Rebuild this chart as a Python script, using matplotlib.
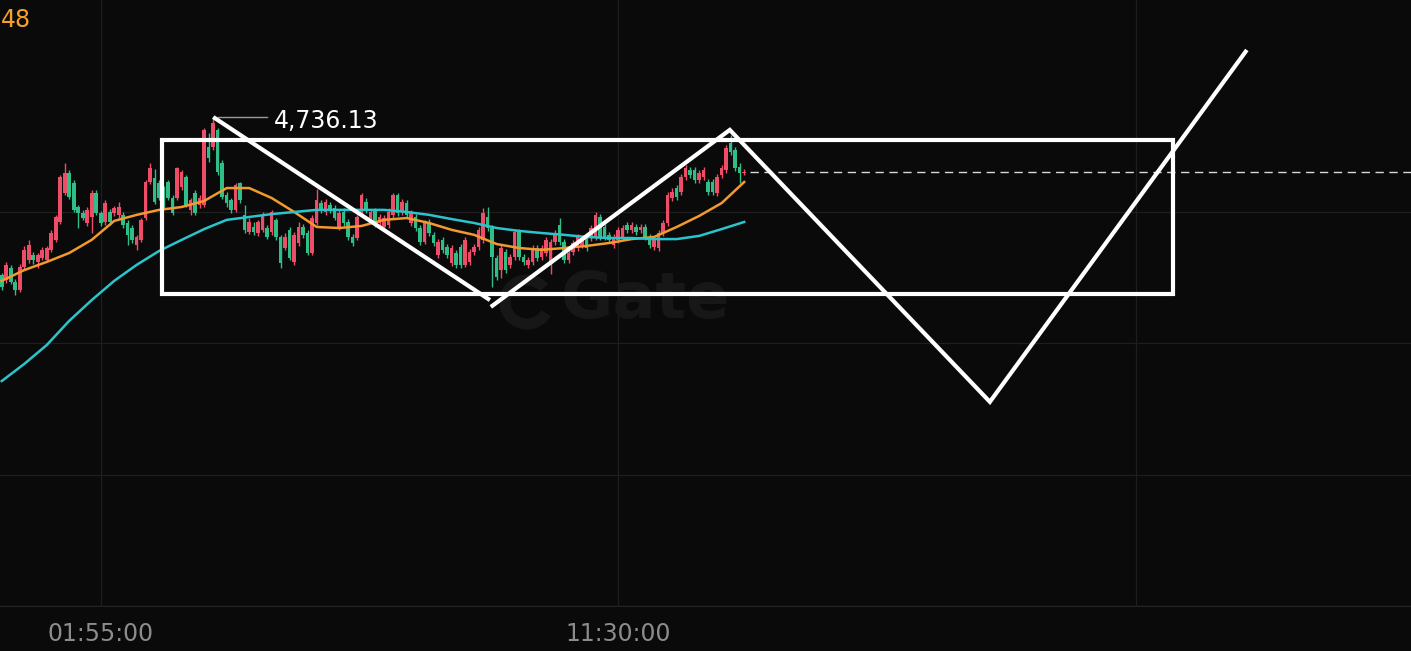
import numpy as np
import matplotlib.pyplot as plt
from matplotlib.patches import Rectangle, Arc

# 5-minute candles (index 0 = 00:05:00)
opens = [4676.0, 4674.2, 4678.7, 4673.4, 4670.4, 4679.1, 4681.8, 4683.7, 4681.0, 4682.5,
         4681.8, 4685.6, 4689.4, 4696.2, 4707.2, 4714.8, 4711.0, 4701.9, 4699.6, 4695.8,
         4698.1, 4707.2, 4699.6, 4696.2, 4700.0, 4699.6, 4698.9, 4698.9, 4695.8, 4693.9,
         4687.5, 4689.4, 4697.7, 4711.4, 4712.9, 4711.0, 4708.4, 4711.4, 4705.3, 4705.3,
         4709.5, 4713.3, 4700.8, 4707.2, 4702.7, 4702.7, 4724.7, 4724.7, 4731.2, 4718.6,
         4706.5, 4704.6, 4700.8, 4711.0, 4698.9, 4692.4, 4694.3, 4692.0, 4693.2, 4693.9,
         4692.4, 4697.0, 4690.5, 4686.3, 4693.2, 4681.0, 4688.2, 4694.3, 4692.0, 4684.4,
         4695.8, 4703.4, 4700.0, 4702.7, 4701.5, 4694.3, 4700.0, 4696.2, 4690.5, 4690.1,
         4700.0, 4703.8, 4697.7, 4700.4, 4695.8, 4694.3, 4695.1, 4698.9, 4706.5, 4700.0,
         4703.4, 4695.8, 4698.1, 4693.9, 4688.6, 4696.2, 4691.3, 4683.7, 4689.4, 4686.7,
         4680.6, 4684.4, 4686.7, 4679.9, 4681.0, 4684.8, 4686.7, 4689.4, 4698.1, 4693.9,
         4682.5, 4677.9, 4684.8, 4679.9, 4682.9, 4692.4, 4682.9, 4679.9, 4681.0, 4686.3,
         4682.9, 4684.4, 4681.0, 4688.6, 4695.1, 4688.6, 4681.8, 4684.8, 4686.3, 4687.5,
         4690.1, 4690.1, 4690.5, 4698.1, 4694.3, 4691.3, 4687.5, 4689.4, 4690.5, 4695.1,
         4693.2, 4694.3, 4693.2, 4694.3, 4690.5, 4686.7, 4686.3, 4692.0, 4695.8, 4705.3,
         4709.1, 4707.6, 4713.3, 4716.0, 4716.0, 4712.2, 4713.3, 4711.4, 4711.4, 4707.2,
         4714.1, 4716.0, 4726.2, 4723.6, 4717.1, 4714.8]
highs = [4676.8, 4681.0, 4679.9, 4674.5, 4680.2, 4687.1, 4689.4, 4684.8, 4684.4, 4686.7,
         4687.1, 4693.2, 4698.9, 4714.1, 4718.6, 4716.0, 4712.2, 4702.7, 4700.8, 4701.9,
         4708.4, 4708.4, 4700.4, 4704.6, 4701.1, 4702.3, 4703.8, 4700.0, 4697.0, 4695.1,
         4691.3, 4697.7, 4712.2, 4718.6, 4716.3, 4712.2, 4710.0, 4712.2, 4706.5, 4717.1,
         4716.0, 4714.1, 4705.3, 4708.4, 4706.5, 4731.9, 4730.0, 4736.13, 4731.9, 4719.8,
         4707.6, 4705.3, 4711.0, 4711.4, 4702.7, 4697.7, 4696.2, 4697.0, 4700.0, 4695.1,
         4700.8, 4697.7, 4691.3, 4692.0, 4694.3, 4692.4, 4696.2, 4695.4, 4693.2, 4698.9,
         4708.7, 4704.6, 4704.9, 4703.8, 4702.7, 4700.8, 4701.5, 4697.3, 4691.6, 4698.9,
         4707.2, 4705.3, 4701.1, 4701.5, 4699.2, 4698.9, 4701.5, 4707.2, 4707.2, 4704.9,
         4704.6, 4700.8, 4699.2, 4695.1, 4697.0, 4697.3, 4692.4, 4689.7, 4690.5, 4687.8,
         4687.5, 4685.6, 4687.8, 4690.5, 4685.9, 4687.8, 4694.3, 4701.5, 4701.9, 4695.1,
         4683.7, 4687.5, 4685.9, 4684.0, 4693.5, 4693.5, 4684.0, 4682.9, 4687.5, 4687.5,
         4687.5, 4690.5, 4689.7, 4693.2, 4697.7, 4689.7, 4685.6, 4689.4, 4691.6, 4690.5,
         4691.3, 4695.1, 4700.0, 4699.2, 4695.4, 4692.4, 4691.6, 4694.3, 4695.1, 4696.2,
         4696.2, 4695.4, 4695.4, 4695.4, 4691.6, 4690.5, 4693.2, 4697.0, 4707.6, 4709.1,
         4710.3, 4714.4, 4717.9, 4717.1, 4717.1, 4716.0, 4717.1, 4712.5, 4712.5, 4714.4,
         4717.9, 4725.5, 4729.3, 4724.7, 4718.6, 4716.3]
lows = [4670.3, 4673.0, 4672.6, 4668.5, 4669.6, 4677.9, 4680.6, 4680.2, 4678.7, 4681.8,
        4681.0, 4684.8, 4688.6, 4695.4, 4706.5, 4704.9, 4700.0, 4693.9, 4697.0, 4694.7,
        4692.0, 4698.9, 4694.7, 4695.1, 4695.1, 4698.5, 4697.7, 4693.9, 4687.5, 4688.2,
        4685.6, 4688.6, 4697.0, 4710.6, 4703.0, 4704.6, 4701.5, 4704.6, 4698.9, 4704.6,
        4708.4, 4701.9, 4698.9, 4698.9, 4701.5, 4701.9, 4719.0, 4723.6, 4714.1, 4704.9,
        4701.9, 4699.6, 4700.0, 4703.4, 4692.0, 4691.6, 4691.3, 4690.9, 4692.4, 4689.7,
        4691.3, 4689.4, 4678.7, 4685.6, 4681.8, 4679.9, 4687.1, 4690.1, 4683.7, 4683.7,
        4695.1, 4699.6, 4698.9, 4699.6, 4697.0, 4693.2, 4694.7, 4689.4, 4687.1, 4689.4,
        4698.9, 4699.6, 4696.6, 4694.3, 4694.7, 4693.2, 4693.9, 4697.7, 4698.5, 4698.9,
        4697.7, 4694.7, 4692.8, 4687.5, 4687.8, 4690.9, 4687.1, 4682.5, 4684.4, 4682.5,
        4679.5, 4678.7, 4678.7, 4679.1, 4679.9, 4683.7, 4685.6, 4688.2, 4692.8, 4671.5,
        4674.2, 4674.9, 4676.8, 4678.7, 4681.8, 4681.8, 4679.9, 4678.7, 4679.9, 4681.4,
        4681.8, 4683.3, 4676.4, 4687.5, 4687.5, 4680.6, 4680.6, 4683.7, 4685.2, 4686.3,
        4685.2, 4689.0, 4689.4, 4689.4, 4689.4, 4688.2, 4686.3, 4688.2, 4689.4, 4692.0,
        4692.0, 4691.3, 4692.0, 4689.4, 4686.3, 4685.6, 4685.2, 4690.9, 4694.7, 4704.2,
        4704.6, 4706.5, 4712.2, 4712.9, 4711.0, 4711.0, 4712.2, 4706.5, 4706.5, 4706.1,
        4712.9, 4714.8, 4721.7, 4715.6, 4711.0, 4714.1]
closes = [4671.5, 4679.9, 4673.4, 4670.4, 4679.1, 4685.6, 4687.5, 4681.8, 4683.7, 4685.6,
          4686.3, 4692.0, 4698.1, 4713.3, 4714.8, 4705.7, 4700.8, 4699.6, 4697.7, 4700.8,
          4707.2, 4699.6, 4695.8, 4703.4, 4696.2, 4701.5, 4701.9, 4695.1, 4691.3, 4689.4,
          4690.5, 4697.0, 4711.4, 4716.7, 4703.8, 4705.3, 4702.7, 4705.3, 4699.6, 4716.7,
          4715.2, 4702.7, 4704.6, 4699.6, 4705.3, 4731.2, 4720.5, 4733.8, 4715.2, 4705.7,
          4703.4, 4700.8, 4710.3, 4704.6, 4693.2, 4696.2, 4692.4, 4696.2, 4698.9, 4690.5,
          4700.0, 4690.5, 4680.6, 4690.5, 4682.5, 4691.3, 4694.3, 4691.3, 4684.4, 4697.7,
          4704.6, 4700.8, 4703.8, 4700.8, 4697.7, 4699.6, 4695.8, 4690.5, 4688.2, 4698.1,
          4706.5, 4700.8, 4700.0, 4695.4, 4698.1, 4697.7, 4700.0, 4706.5, 4699.6, 4703.8,
          4698.9, 4699.6, 4693.9, 4688.6, 4696.2, 4692.0, 4688.2, 4688.6, 4685.6, 4683.7,
          4686.3, 4679.9, 4679.9, 4689.4, 4684.8, 4686.7, 4693.2, 4699.6, 4693.9, 4682.9,
          4675.3, 4686.3, 4677.9, 4682.9, 4692.4, 4682.9, 4681.0, 4681.8, 4686.3, 4682.5,
          4686.3, 4689.4, 4688.6, 4692.0, 4688.6, 4681.8, 4684.4, 4688.2, 4690.5, 4689.4,
          4686.3, 4693.9, 4698.9, 4690.5, 4690.5, 4689.4, 4690.5, 4693.2, 4693.9, 4693.2,
          4695.1, 4692.4, 4694.3, 4690.5, 4687.5, 4689.4, 4692.0, 4695.8, 4706.5, 4707.6,
          4705.7, 4713.3, 4716.7, 4714.1, 4712.2, 4714.8, 4716.0, 4707.6, 4707.6, 4713.3,
          4716.7, 4724.3, 4722.8, 4716.7, 4714.8, 4715.2]

# moving averages, sampled every 5 candles
ma_idx = list(range(0, 166, 5))
ma_fast = [4673.8, 4677.9, 4681.0, 4684.4, 4689.4, 4696.6, 4698.9, 4700.8, 4701.9, 4704.2,
           4709.1, 4709.1, 4705.3, 4700.0, 4694.3, 4693.9, 4694.7, 4697.0, 4697.7, 4695.8,
           4693.2, 4691.3, 4687.8, 4686.3, 4685.6, 4686.3, 4687.1, 4688.2, 4689.7, 4690.5,
           4694.3, 4698.5, 4703.4, 4711.4]
ma_slow = [4635.7, 4642.2, 4649.4, 4658.6, 4666.5, 4673.8, 4679.9, 4685.2, 4689.4, 4693.5,
           4697.0, 4698.1, 4699.2, 4700.0, 4700.8, 4700.8, 4700.8, 4700.8, 4700.0, 4698.9,
           4697.3, 4695.8, 4693.9, 4692.8, 4692.0, 4691.3, 4690.5, 4690.1, 4690.1, 4689.7,
           4689.7, 4690.9, 4693.5, 4696.2]

# time axis
grid_idx = [22, 137, 252]
tick_idx = [22, 137]
tick_labels = ['01:55:00', '11:30:00']
price_grid = [4600, 4650, 4700]

# hand-drawn overlay (candle index, price)
box_x = [35.6, 260.3]
box_y = [4668.8, 4727.4]
leg1_x = [47.0, 108.5]
leg1_y = [4736.1, 4666.5]
leg2_x = [108.7, 161.8, 219.6, 276.7]
leg2_y = [4663.9, 4731.2, 4627.8, 4761.6]

BG = '#0a0a0a'
GRID = '#1e1e1e'
RED = '#ee4d68'
GREEN = '#2fbd88'

fig = plt.figure(figsize=(14.11, 6.51), dpi=100, facecolor=BG)
ax = fig.add_axes([0, 44 / 651, 1, 607 / 651])
ax.set_facecolor('none')

o = np.array(opens)
c = np.array(closes)
x = np.arange(len(o))
cols = [RED if cc >= oo else GREEN for oo, cc in zip(o, c)]

# grid
for p in price_grid:
    ax.axhline(p, color=GRID, lw=0.9, zorder=0)
ax.axhline(4550, color='#262626', lw=1.0, zorder=0)
for t in grid_idx:
    ax.axvline(t, color=GRID, lw=0.9, zorder=0)

# watermark
ax.text(143, 4666.5, 'Gate', fontsize=46, fontweight='bold', color='#171717',
        ha='center', va='center', zorder=0.5)
logo = Arc((5.27, 3.49), 0.44, 0.44, theta1=40, theta2=330, lw=8, color='#171717',
           transform=fig.dpi_scale_trans, zorder=0.5)
ax.add_patch(logo)

# candles
ax.vlines(x, lows, highs, colors=cols, lw=1.0, zorder=2)
ax.bar(x, np.maximum(np.abs(c - o), 0.4), bottom=np.minimum(o, c), width=0.8,
       color=cols, linewidth=0, zorder=2.1)

# moving averages
ax.plot(ma_idx, ma_fast, color='#f29a2c', lw=1.8, zorder=3)
ax.plot(ma_idx, ma_slow, color='#2ac4cc', lw=1.8, zorder=3)

# last price
xmax = 313.18
ax.hlines(closes[-1], len(closes) + 0.3, xmax, colors='#d8d8d8', lw=1,
          linestyles=(0, (6, 4)), zorder=3)

# high label
i_hi = int(np.argmax(highs))
ax.plot([i_hi + 1, i_hi + 12], [highs[i_hi], highs[i_hi]], color='#9a9a9a', lw=1, zorder=4)
ax.text(i_hi + 13.5, highs[i_hi] - 1.5, f'{highs[i_hi]:,.2f}', color='white',
        fontsize=17, ha='left', va='center', zorder=4)

# overlay drawings
ax.add_patch(Rectangle((box_x[0], box_y[0]), box_x[1] - box_x[0], box_y[1] - box_y[0],
                       fill=False, ec='white', lw=3, zorder=5))
ax.plot(leg1_x, leg1_y, color='white', lw=3, solid_capstyle='butt', zorder=5)
ax.plot(leg2_x, leg2_y, color='white', lw=3, solid_capstyle='butt',
        solid_joinstyle='miter', zorder=5)

fig.text(1 / 1411, 1 - 20 / 651, '48', color='#f5a02a', fontsize=17, ha='left', va='center')

ax.set_xlim(-0.378, xmax)
ax.set_ylim(4549.8, 4780.6)
ax.set_xticks(tick_idx)
ax.set_xticklabels(tick_labels)
ax.set_yticks([])
ax.tick_params(axis='x', length=0, colors='#8c8c8c', labelsize=17, pad=11)
for s in ax.spines.values():
    s.set_visible(False)

fig.savefig('out.png', dpi=100, facecolor=BG)
